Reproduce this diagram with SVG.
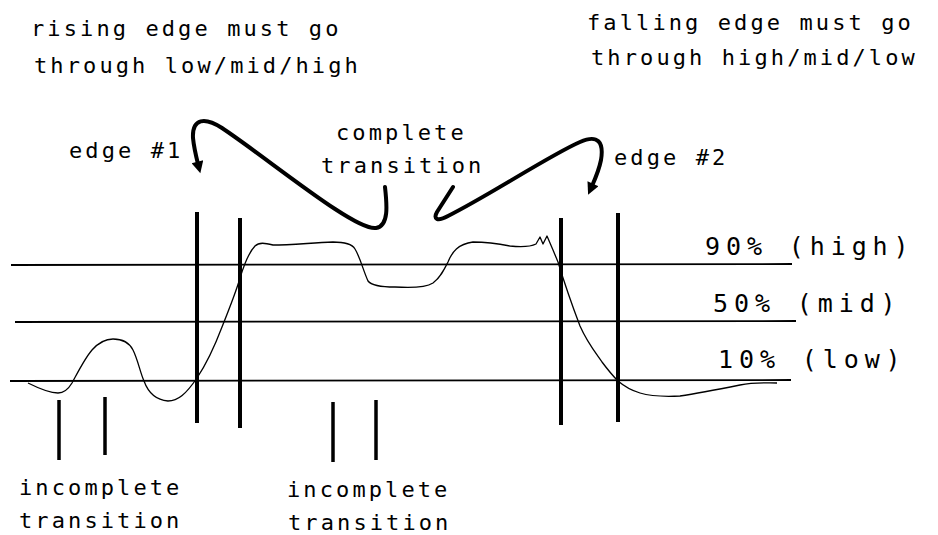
<svg xmlns="http://www.w3.org/2000/svg" width="938" height="535" viewBox="0 0 938 535">
<style>
.t{font-family:"DejaVu Sans Mono","Liberation Mono",monospace;font-size:22px;letter-spacing:3.1px;fill:#000}
.big{font-size:25px;letter-spacing:5.9px}
.lvl{stroke:#000;stroke-width:1.8;fill:none}
.bar{stroke:#000;stroke-width:4;fill:none}
.tick{stroke:#000;stroke-width:3.5;fill:none}
.wave{stroke:#000;stroke-width:1.3;fill:none;stroke-linejoin:round}
.arrow{stroke:#000;stroke-width:4;fill:none;stroke-linecap:round;stroke-linejoin:round}
</style>
<defs>
<marker id="ah" viewBox="0 0 10 10" refX="2" refY="5" markerWidth="5.5" markerHeight="3" orient="auto" markerUnits="strokeWidth">
<path d="M0,0 L10,5 L0,10 z" fill="#000"/>
</marker>
</defs>
<rect width="938" height="535" fill="#fff"/>
<g id="labels-top">
<text class="t" x="31" y="36">rising edge must go</text>
<text class="t" x="34" y="73">through low/mid/high</text>
<text class="t" x="587" y="30">falling edge must go</text>
<text class="t" x="591" y="65">through high/mid/low</text>
</g>
<g id="levels">
<line class="lvl" x1="11" y1="265" x2="792" y2="264"/>
<line class="lvl" x1="15" y1="322" x2="796" y2="321"/>
<line class="lvl" x1="10" y1="381" x2="791" y2="380"/>
</g>
<g id="level-labels">
<text class="t big" x="705" y="255">90% (high)</text>
<text class="t big" x="713" y="312">50% (mid)</text>
<text class="t big" x="718" y="368">10% (low)</text>
</g>
<g id="waveform">
<path class="wave" d="M28,383 C40,389 50,393 58,393 C65,393 69,388 72,383 C78,372 85,358 92,350 C100,341 108,339 113,339 C122,339 129,342 133,350 C138,360 140,372 144,381 C148,392 156,400 168,401 C178,401 186,394 197,378 C205,366 214,348 222,327 C230,307 236,292 240,278 C244,265 249,252 255,246 C259,242 265,243 273,245 C290,245 310,243 333,242 C345,242 352,244 355,249 C360,257 363,270 368,281 C371,285 380,287 395,287 C410,288 425,288 433,283 C440,278 444,270 448,262 C452,252 458,244 473,242 C485,242 495,243 510,246 C520,247 530,247 536,244 L540,237 L543,244 L547,236 L553,250 L558,262 C565,285 572,305 580,326 C587,342 595,352 602,362 C608,370 613,376 618,381 C625,387 630,390 640,393 C650,396 660,397 680,396 C700,393 720,389 740,385 C755,382 765,383 777,383"/>
</g>
<g id="edge1-bars">
<line class="bar" x1="197" y1="212" x2="197" y2="423"/>
<line class="bar" x1="240" y1="218" x2="240" y2="428"/>
</g>
<g id="edge2-bars">
<line class="bar" x1="561" y1="218" x2="561" y2="425"/>
<line class="bar" x1="618" y1="213" x2="618" y2="422"/>
</g>
<g id="incomplete-left">
<line class="tick" x1="59" y1="400" x2="59" y2="460"/>
<line class="tick" x1="105" y1="397" x2="105" y2="455"/>
<text class="t" x="19" y="495">incomplete</text>
<text class="t" x="19" y="528">transition</text>
</g>
<g id="incomplete-mid">
<line class="tick" x1="333" y1="402" x2="333" y2="462"/>
<line class="tick" x1="376" y1="400" x2="376" y2="460"/>
<text class="t" x="287" y="497">incomplete</text>
<text class="t" x="288" y="530">transition</text>
</g>
<g id="edge1-label">
<text class="t" x="69" y="158">edge #1</text>
</g>
<g id="complete-label">
<text class="t" x="336" y="140">complete</text>
<text class="t" x="321" y="173">transition</text>
</g>
<g id="edge2-label">
<text class="t" x="614" y="165">edge #2</text>
</g>
<g id="connectors">
<path class="arrow" marker-end="url(#ah)" d="M385,187 C387,205 389,226 376,228 C355,231 270,160 222,128 C205,117 192,118 193,138 C194,148 196,156 198,164"/>
<path class="arrow" marker-end="url(#ah)" d="M453,187 L437,212 C433,219 437,222 448,216 C490,195 550,155 580,142 C598,134 604,142 601,160 C599,170 596,177 592,186"/>
</g>
</svg>
